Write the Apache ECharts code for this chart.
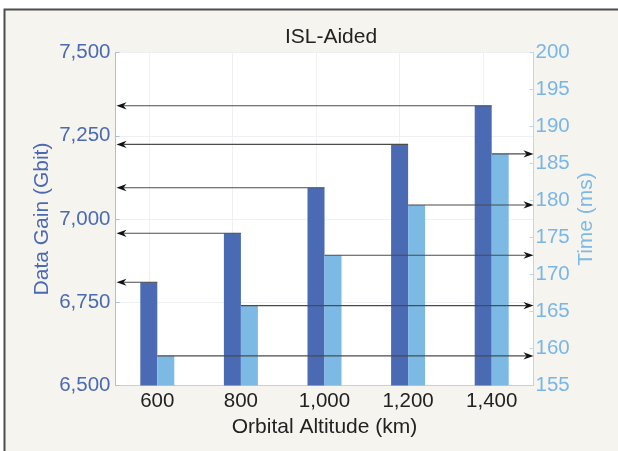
<!DOCTYPE html>
<html>
<head>
<meta charset="utf-8">
<script src="https://cdn.jsdelivr.net/npm/echarts@6/dist/echarts.min.js"></script>
<style>
  html, body { margin: 0; padding: 0; background: #ffffff; }
  #chart { width: 618px; height: 451px; }
</style>
</head>
<body>
<div id="chart"></div>
<script>
// Orbital altitude categories (km)
const altitudes = ['600', '800', '1,000', '1,200', '1,400'];
// Data gain per altitude (Gbit), left axis
const dataGain = [6810, 6957, 7094, 7224, 7340];
// Time per altitude (ms), right axis
const timeMs = [159.0, 165.8, 172.6, 179.4, 186.3];

// Left axis range / ticks (Gbit)
const gainMin = 6500, gainMax = 7500, gainStep = 250;
// Right axis range / ticks (ms)
const timeMin = 155, timeMax = 200, timeStep = 5;

const DARK = '#4a6ab4';
const LIGHT = '#7db9e5';
const FONT = 'Liberation Sans, Arial, Helvetica, sans-serif';

// Horizontal leader line from a bar top to the chosen side of the plot, ending in an arrowhead
function arrowRenderer(dir) {
  return function (params, api) {
    const cs = params.coordSys;
    const p = api.coord([api.value(0), api.value(1)]);
    const y = p[1];
    const xStart = p[0];
    const tip = dir < 0 ? cs.x + 1 : cs.x + cs.width;
    const len = 10, half = 3.6, notch = 3;
    const back = tip - dir * len;
    return {
      type: 'group',
      children: [
        {
          type: 'line',
          shape: { x1: xStart, y1: y, x2: back + dir * notch, y2: y },
          style: { stroke: '#4b4b4b', lineWidth: 1.1 }
        },
        {
          type: 'polygon',
          shape: { points: [[tip, y], [back, y - half], [back + dir * notch, y], [back, y + half]] },
          style: { fill: '#111111' }
        }
      ]
    };
  };
}

const chart = echarts.init(document.getElementById('chart'), null, { renderer: 'canvas' });

chart.setOption({
  animation: false,
  backgroundColor: '#ffffff',
  graphic: [
    {
      type: 'rect',
      z: -10,
      shape: { x: 4.5, y: 9.5, width: 700, height: 600 },
      style: { fill: '#f6f4ee', stroke: '#4d4d4d', lineWidth: 2 }
    }
  ],
  title: {
    text: 'ISL-Aided',
    left: 326,
    textAlign: 'center',
    top: 22,
    textStyle: { fontFamily: FONT, fontSize: 21, fontWeight: 'normal', color: '#222222' }
  },
  grid: {
    left: 115.5,
    right: 84.5,
    top: 52.5,
    bottom: 65.5,
    show: true,
    backgroundColor: '#ffffff',
    borderWidth: 0
  },
  xAxis: {
    type: 'category',
    data: altitudes,
    name: 'Orbital Altitude (km)',
    nameLocation: 'middle',
    nameGap: 31,
    nameMoveOverlap: false,
    nameTextStyle: { fontFamily: FONT, fontSize: 21, color: '#222222' },
    axisLine: { lineStyle: { color: '#b9d4ee', width: 1 } },
    axisTick: { show: false },
    axisLabel: { fontFamily: FONT, fontSize: 20.5, color: '#222222', margin: 5 },
    splitLine: { show: false }
  },
  yAxis: [
    {
      type: 'value',
      min: gainMin,
      max: gainMax,
      interval: gainStep,
      name: 'Data Gain (Gbit)',
      nameLocation: 'middle',
      nameGap: 63,
      nameMoveOverlap: false,
      nameTextStyle: { fontFamily: FONT, fontSize: 21, color: DARK },
      axisLine: { show: true, lineStyle: { color: '#aebcd9', width: 1 } },
      axisTick: { show: true, inside: true, length: 4, lineStyle: { color: '#aebcd9' } },
      axisLabel: {
        fontFamily: FONT, fontSize: 20.5, color: DARK, margin: 5,
        formatter: v => v.toLocaleString('en-US')
      },
      splitLine: { show: true, lineStyle: { color: '#eef0f4', width: 1 } }
    },
    {
      type: 'value',
      min: timeMin,
      max: timeMax,
      interval: timeStep,
      name: 'Time (ms)',
      nameLocation: 'middle',
      nameGap: 42,
      nameMoveOverlap: false,
      nameTextStyle: { fontFamily: FONT, fontSize: 21, color: LIGHT },
      axisLine: { show: true, lineStyle: { color: '#bcd6ee', width: 1 } },
      axisTick: { show: true, inside: true, length: 4, lineStyle: { color: '#bcd6ee' } },
      axisLabel: { fontFamily: FONT, fontSize: 20.5, color: '#79b6e8', margin: 2 },
      splitLine: { show: false }
    }
  ],
  series: [
    {
      name: 'Data Gain',
      type: 'bar',
      yAxisIndex: 0,
      data: dataGain,
      barWidth: 17,
      barGap: '0%',
      itemStyle: { color: DARK },
      z: 2,
      markLine: {
        silent: true,
        symbol: 'none',
        label: { show: false },
        lineStyle: { color: '#eef0f4', width: 1, type: 'solid' },
        data: altitudes.map(a => ({ xAxis: a })),
        z: 1
      }
    },
    {
      name: 'Time',
      type: 'bar',
      yAxisIndex: 1,
      data: timeMs,
      barWidth: 17,
      barGap: '0%',
      itemStyle: { color: LIGHT },
      z: 2
    },
    {
      type: 'custom',
      yAxisIndex: 0,
      renderItem: arrowRenderer(-1),
      data: dataGain.map((v, i) => [i, v]),
      silent: true,
      z: 5
    },
    {
      type: 'custom',
      yAxisIndex: 1,
      renderItem: arrowRenderer(1),
      data: timeMs.map((v, i) => [i, v]),
      silent: true,
      z: 5
    }
  ]
});
</script>
</body>
</html>
